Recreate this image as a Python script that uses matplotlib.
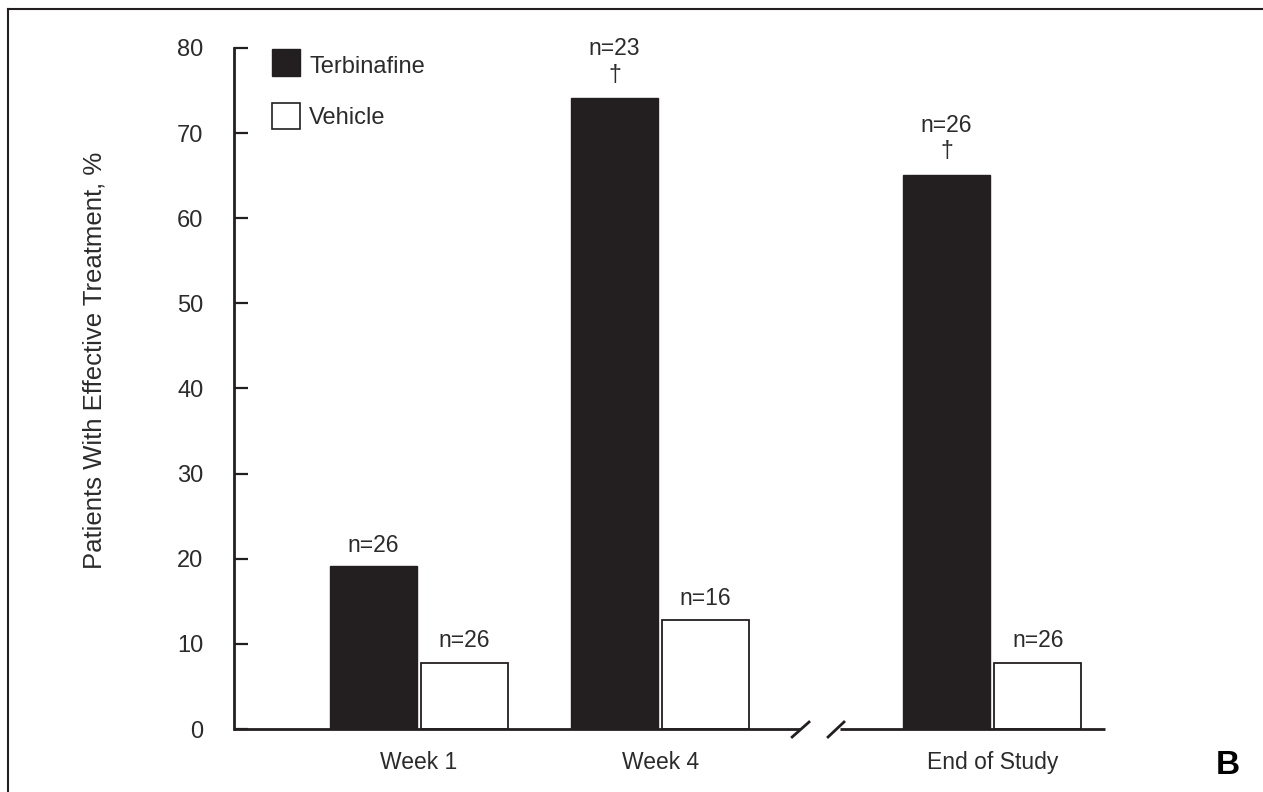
import matplotlib
matplotlib.use("Agg")
import matplotlib.pyplot as plt
from matplotlib.patches import Rectangle
from matplotlib.lines import Line2D

plt.rcParams['font.family'] = ['Liberation Sans', 'DejaVu Sans']

# ---- data ----
groups = ["Week 1", "Week 4", "End of Study"]
series_names = ["Terbinafine", "Vehicle"]
terbinafine = [19.2, 74.1, 65.1]
vehicle = [7.8, 12.8, 7.8]
terb_n = ["n=26", "n=23", "n=26"]
veh_n = ["n=26", "n=16", "n=26"]
terb_sig = [False, True, True]
yticks = [0, 10, 20, 30, 40, 50, 60, 70, 80]
ylabel = "Patients With Effective Treatment, %"
panel = "B"

# ---- layout / style ----
W, H = 1263, 792
DARK = "#231f20"
TXT = "#2b2b2b"
group_pos = [0.0, 1.0, 2.378]
bar_w = 0.361
off = 0.189

fig = plt.figure(figsize=(W / 100, H / 100), dpi=100)
fig.patch.set_facecolor("white")

def fx(px):
    return px / W

def fy(py):
    return 1 - py / H

ax = fig.add_axes([fx(234), fy(729), fx(1105) - fx(234), fy(48) - fy(729)])
ax.set_xlim(-0.768, 2.846)
ax.set_ylim(0, 80)

tx = [g - off for g in group_pos]
vx = [g + off for g in group_pos]
ax.bar(tx, terbinafine, width=bar_w, color=DARK, edgecolor=DARK, linewidth=1.0, zorder=2)
ax.bar(vx, vehicle, width=bar_w, color="white", edgecolor=DARK, linewidth=1.3, zorder=2)

fs_n = 16.5
for x, v, lab, sig in zip(tx, terbinafine, terb_n, terb_sig):
    if sig:
        ax.annotate("†", (x, v), xytext=(0, 16.5), textcoords="offset points",
                    ha="center", va="center", fontsize=fs_n, color=TXT)
        ax.annotate(lab, (x, v), xytext=(0, 31), textcoords="offset points",
                    ha="center", va="baseline", fontsize=fs_n, color=TXT)
    else:
        ax.annotate(lab, (x, v), xytext=(0, 10), textcoords="offset points",
                    ha="center", va="baseline", fontsize=fs_n, color=TXT)
for x, v, lab in zip(vx, vehicle, veh_n):
    ax.annotate(lab, (x, v), xytext=(0, 11), textcoords="offset points",
                ha="center", va="baseline", fontsize=fs_n, color=TXT)

# spines
for s in ["top", "right", "bottom"]:
    ax.spines[s].set_visible(False)
ax.spines["left"].set_linewidth(2.0)
ax.spines["left"].set_color(DARK)

ax.set_yticks(yticks)
ax.set_yticklabels([str(t) for t in yticks])
ax.tick_params(axis="y", direction="in", length=10, width=1.6, color=DARK,
               labelsize=17, labelcolor=TXT, pad=22)
ax.set_xticks(group_pos)
ax.set_xticklabels(groups)
ax.tick_params(axis="x", length=0, labelsize=16.5, labelcolor=TXT, pad=16)

# broken x-axis
xline_kw = dict(color=DARK, linewidth=2.0, clip_on=False, solid_capstyle="butt", zorder=3)
ax.plot([-0.768, 1.581], [0, 0], **xline_kw)
ax.plot([1.747, 2.846], [0, 0], **xline_kw)
ax.plot([1.548, 1.618], [-0.94, 0.82], color=DARK, linewidth=2.0, clip_on=False, zorder=3)
ax.plot([1.697, 1.763], [-0.94, 0.82], color=DARK, linewidth=2.0, clip_on=False, zorder=3)

# y label
fig.text(fx(95), fy(360), ylabel, rotation=90, ha="center", va="center",
         fontsize=18.5, color=TXT)

# legend (manual)
fig.add_artist(Rectangle((fx(272), fy(76)), fx(300) - fx(272), fy(49) - fy(76),
                         transform=fig.transFigure, facecolor=DARK, edgecolor=DARK, linewidth=1.0))
fig.add_artist(Rectangle((fx(272), fy(129)), fx(300) - fx(272), fy(103) - fy(129),
                         transform=fig.transFigure, facecolor="white", edgecolor=DARK, linewidth=1.2))
fig.text(fx(309), fy(67), series_names[0], ha="left", va="center", fontsize=17, color=TXT)
fig.text(fx(309), fy(118), series_names[1], ha="left", va="center", fontsize=17, color=TXT)

# panel letter
fig.text(fx(1228), fy(766), panel, ha="center", va="center", fontsize=24,
         fontweight="bold", color="black")

# frame lines (top and left)
fig.add_artist(Line2D([fx(8), fx(8)], [0, fy(9)], transform=fig.transFigure,
                      color=DARK, linewidth=1.5))
fig.add_artist(Line2D([fx(8), 1], [fy(9), fy(9)], transform=fig.transFigure,
                      color=DARK, linewidth=1.5))

fig.savefig("out.png", dpi=100, facecolor="white")
